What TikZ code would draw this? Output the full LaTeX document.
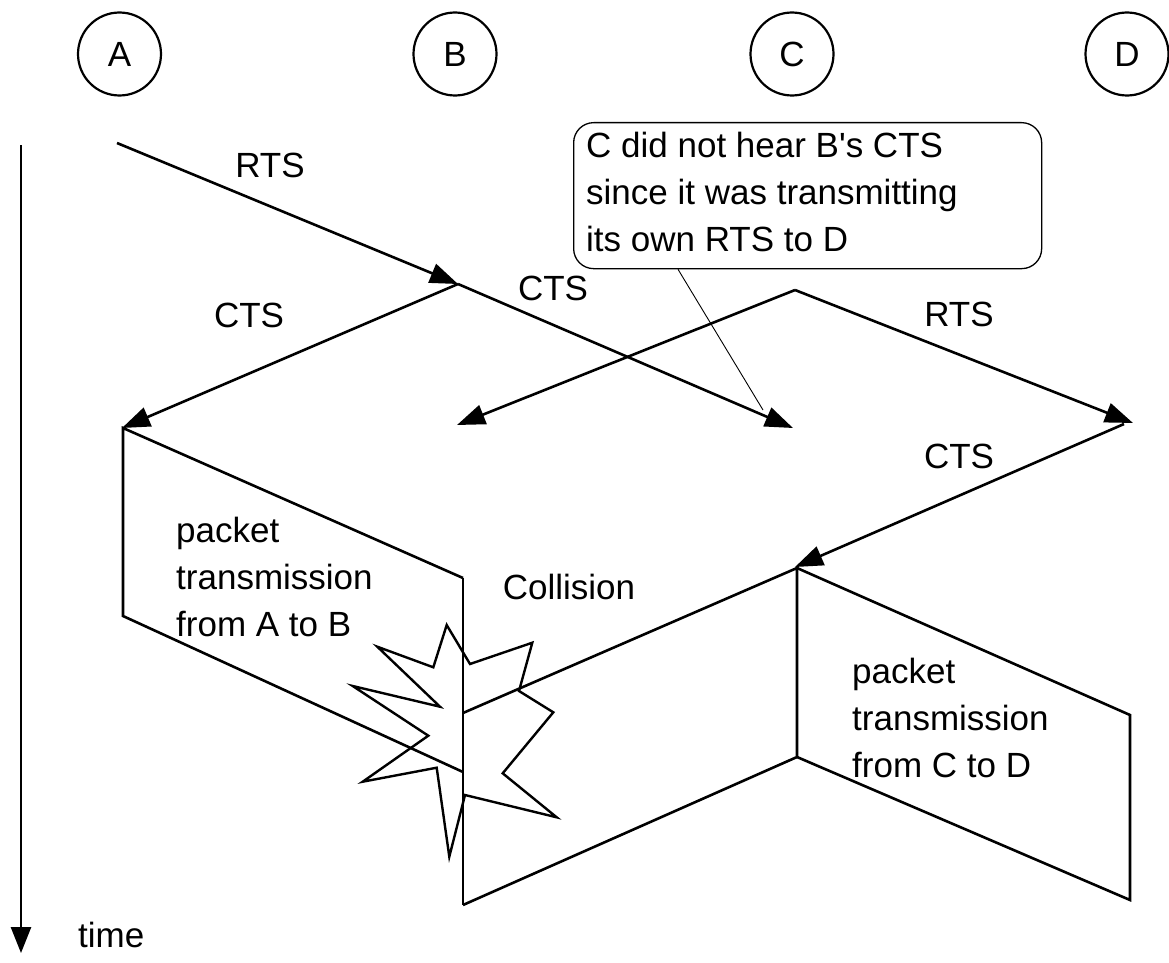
\documentclass[tikz,border=0pt]{standalone}
\usepackage{fontspec}
\setmainfont{Liberation Sans}[Ligatures=TeXOff]
\usetikzlibrary{arrows.meta}

\begin{document}
\begin{tikzpicture}[x=1pt,y=-1pt,
  wire/.style={line width=2.6pt,line join=miter},
  msg/.style={wire,-{Triangle[length=28pt,width=20pt]}},
  station/.style={circle,draw,line width=2.2pt,minimum size=83pt,inner sep=0pt,
                  font=\fontsize{35}{42}\selectfont},
  lbl/.style={font=\fontsize{35}{42}\selectfont,inner sep=0pt,anchor=base},
  block/.style={font=\fontsize{35}{47}\selectfont,inner sep=0pt,align=left,anchor=north west},
  notebox/.style={draw,line width=1.3pt,rounded corners=20pt,anchor=north west,
                  minimum width=468pt,minimum height=146pt,inner sep=0pt},
]
\useasboundingbox (0,0) rectangle (1169,963);

% stations
\node[station] (A) at (119.5,54) {A};
\node[station] (B) at (455,54) {B};
\node[station] (C) at (792,54) {C};
\node[station] (D) at (1127,54) {D};

% time axis
\coordinate (t0) at (21,145);
\coordinate (t1) at (21,953);
\draw[wire,-{Triangle[length=26pt,width=20pt]}] (t0) -- (t1);
\node[lbl,anchor=base west] (time) at (78,947) {time};

% events on the time lines
\coordinate (a0) at (117,143);   % A starts RTS
\coordinate (b0) at (458,284);   % B receives RTS, sends CTS
\coordinate (a1) at (122,428);   % A receives CTS
\coordinate (c1) at (793,428);   % C gets B's CTS
\coordinate (c0) at (795,290);   % C starts its own RTS
\coordinate (b1) at (457,425);   % C's RTS reaches B
\coordinate (d1) at (1133,423);  % C's RTS reaches D
\coordinate (d0) at (1124,424);  % D sends CTS
\coordinate (c2) at (795,567);   % D's CTS reaches C

% control frames
\draw[msg] (a0) -- (b0);
\draw[msg] (b0) -- (a1);
\draw[msg] (b0) -- (c1);
\draw[msg] (c0) -- (b1);
\draw[msg] (c0) -- (d1);
\draw[msg] (d0) -- (c2);

\node[lbl] (rts1) at (270,177) {RTS};
\node[lbl] (cts1) at (249,327) {CTS};
\node[lbl] (cts2) at (553,300) {CTS};
\node[lbl] (rts2) at (959,326) {RTS};
\node[lbl] (cts3) at (959,468) {CTS};

% packet A -> B
\coordinate (pa0) at (123,428);
\coordinate (pa1) at (123,616);
\coordinate (pb0) at (463,578);
\coordinate (pb1) at (463,772);
\coordinate (pb2) at (463,905);
\draw[wire] (pb0) -- (pa0) -- (pa1) -- (pb1);
\draw[wire] (pb0) -- (pb2);

% packet C -> B and C -> D
\coordinate (pc0) at (797,568);
\coordinate (pc1) at (797,757);
\coordinate (pbc0) at (463,713);
\coordinate (pd0) at (1130,715);
\coordinate (pd1) at (1130,900);
\draw[wire] (pbc0) -- (pc0) -- (pc1) -- (pb2);
\draw[wire] (pc0) -- (pd0) -- (pd1) -- (pc1);

\node[block] (pktab) at (176,517) {packet\\transmission\\from A to B};
\node[block] (pktcd) at (852,658) {packet\\transmission\\from C to D};
\node[lbl] (coll) at (569,599) {Collision};

% collision burst
\draw[line width=2.4pt,line join=miter]
  (446.7,625) -- (470,664) -- (532.3,642.7) -- (519,691) -- (553.3,712.3)
  -- (502.7,773.3) -- (556.7,817.3) -- (465,795) -- (449.3,856.7)
  -- (436.7,767.7) -- (362.7,781.7) -- (428.3,735.7) -- (352.7,686)
  -- (440,706.7) -- (377.3,646.7) -- (433.3,667.3) -- cycle;

% annotation
\node[notebox] (note) at (573,122) {};
\node[block] (notetext) at (586,132) {C did not hear B's CTS\\since it was transmitting\\its own RTS to D};
\coordinate (ptr) at (763,410);
\draw[line width=0.9pt] ([xshift=105pt]note.south west) -- (ptr);
\end{tikzpicture}
\end{document}
